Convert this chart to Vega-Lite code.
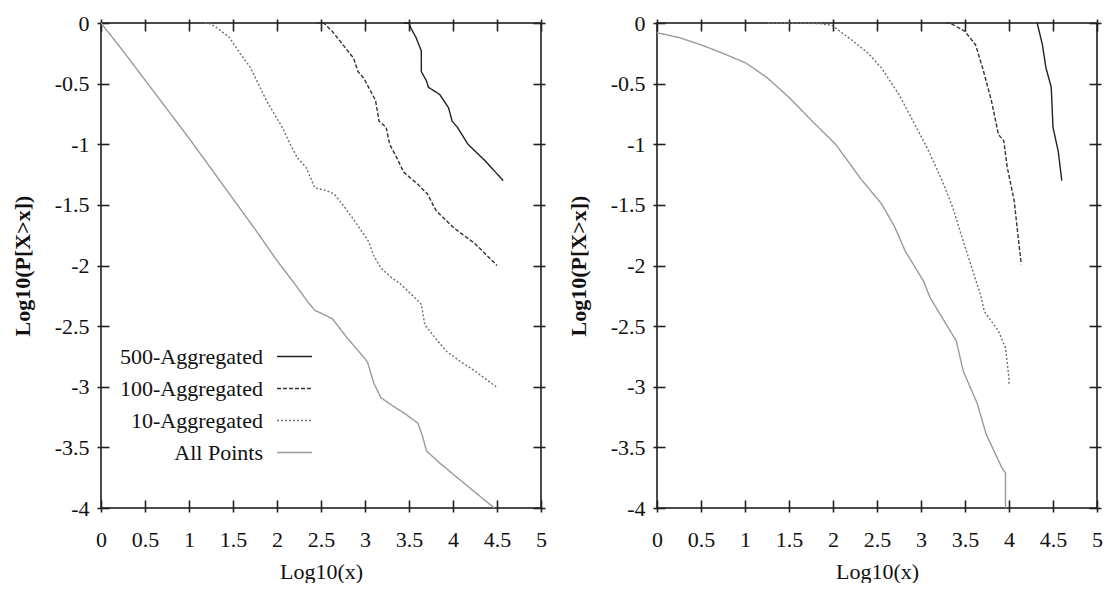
{
  "$schema": "https://vega.github.io/schema/vega-lite/v6.json",
  "background": "white",
  "padding": {"top": 11, "left": 10, "right": 5, "bottom": 0},
  "spacing": 18,
  "config": {
    "font": "Liberation Serif",
    "view": {"stroke": "#111", "strokeWidth": 1.5},
    "axis": {
      "labelFont": "Liberation Serif", "labelFontSize": 22, "labelColor": "#111",
      "titleFont": "Liberation Serif", "titleFontSize": 22, "titleColor": "#111", "titleFontWeight": "normal",
      "grid": false, "domain": false, "tickColor": "#222222", "tickSize": 12, "tickWidth": 1.6, "offset": -8,
      "labelFlush": false, "labelOverlap": false
    },
    "legend": {
      "orient": "none", "legendX": 179, "legendY": 315, "padding": 0,
      "labelFont": "Liberation Serif", "labelFontSize": 22, "labelColor": "#111",
      "labelAlign": "right", "labelOffset": -50, "labelLimit": 0,
      "symbolType": "stroke", "symbolSize": 1225, "symbolStrokeWidth": 1.4
    }
  },
  "datasets": {
    "left": [
      {"series": "All Points", "i": 0, "x": 0, "y": 0},
      {"series": "All Points", "i": 1, "x": 0.25, "y": -0.23},
      {"series": "All Points", "i": 2, "x": 0.5, "y": -0.47},
      {"series": "All Points", "i": 3, "x": 0.75, "y": -0.71},
      {"series": "All Points", "i": 4, "x": 1, "y": -0.95},
      {"series": "All Points", "i": 5, "x": 1.25, "y": -1.2},
      {"series": "All Points", "i": 6, "x": 1.5, "y": -1.45},
      {"series": "All Points", "i": 7, "x": 1.75, "y": -1.7},
      {"series": "All Points", "i": 8, "x": 2, "y": -1.96},
      {"series": "All Points", "i": 9, "x": 2.2, "y": -2.15},
      {"series": "All Points", "i": 10, "x": 2.35, "y": -2.3},
      {"series": "All Points", "i": 11, "x": 2.43, "y": -2.37},
      {"series": "All Points", "i": 12, "x": 2.55, "y": -2.41},
      {"series": "All Points", "i": 13, "x": 2.63, "y": -2.44},
      {"series": "All Points", "i": 14, "x": 2.8, "y": -2.6},
      {"series": "All Points", "i": 15, "x": 2.99, "y": -2.76},
      {"series": "All Points", "i": 16, "x": 3.03, "y": -2.8},
      {"series": "All Points", "i": 17, "x": 3.1, "y": -2.97},
      {"series": "All Points", "i": 18, "x": 3.18, "y": -3.09},
      {"series": "All Points", "i": 19, "x": 3.32, "y": -3.16},
      {"series": "All Points", "i": 20, "x": 3.45, "y": -3.22},
      {"series": "All Points", "i": 21, "x": 3.6, "y": -3.3},
      {"series": "All Points", "i": 22, "x": 3.65, "y": -3.4},
      {"series": "All Points", "i": 23, "x": 3.7, "y": -3.53},
      {"series": "All Points", "i": 24, "x": 3.85, "y": -3.63},
      {"series": "All Points", "i": 25, "x": 4.0, "y": -3.72},
      {"series": "All Points", "i": 26, "x": 4.2, "y": -3.84},
      {"series": "All Points", "i": 27, "x": 4.47, "y": -4.0},
      {"series": "10-Aggregated", "i": 0, "x": 1.18, "y": 0},
      {"series": "10-Aggregated", "i": 1, "x": 1.22, "y": 0},
      {"series": "10-Aggregated", "i": 2, "x": 1.3, "y": -0.03},
      {"series": "10-Aggregated", "i": 3, "x": 1.46, "y": -0.12},
      {"series": "10-Aggregated", "i": 4, "x": 1.58, "y": -0.25},
      {"series": "10-Aggregated", "i": 5, "x": 1.7, "y": -0.37},
      {"series": "10-Aggregated", "i": 6, "x": 1.88, "y": -0.64},
      {"series": "10-Aggregated", "i": 7, "x": 2.06, "y": -0.86},
      {"series": "10-Aggregated", "i": 8, "x": 2.15, "y": -1.0},
      {"series": "10-Aggregated", "i": 9, "x": 2.23, "y": -1.11},
      {"series": "10-Aggregated", "i": 10, "x": 2.33, "y": -1.19},
      {"series": "10-Aggregated", "i": 11, "x": 2.43, "y": -1.36},
      {"series": "10-Aggregated", "i": 12, "x": 2.55, "y": -1.38},
      {"series": "10-Aggregated", "i": 13, "x": 2.65, "y": -1.41},
      {"series": "10-Aggregated", "i": 14, "x": 2.78, "y": -1.53},
      {"series": "10-Aggregated", "i": 15, "x": 2.88, "y": -1.63},
      {"series": "10-Aggregated", "i": 16, "x": 3.04, "y": -1.8},
      {"series": "10-Aggregated", "i": 17, "x": 3.1, "y": -1.92},
      {"series": "10-Aggregated", "i": 18, "x": 3.18, "y": -2.02},
      {"series": "10-Aggregated", "i": 19, "x": 3.3, "y": -2.1},
      {"series": "10-Aggregated", "i": 20, "x": 3.4, "y": -2.15},
      {"series": "10-Aggregated", "i": 21, "x": 3.6, "y": -2.29},
      {"series": "10-Aggregated", "i": 22, "x": 3.64, "y": -2.32},
      {"series": "10-Aggregated", "i": 23, "x": 3.68, "y": -2.49},
      {"series": "10-Aggregated", "i": 24, "x": 3.8, "y": -2.6},
      {"series": "10-Aggregated", "i": 25, "x": 3.93, "y": -2.71},
      {"series": "10-Aggregated", "i": 26, "x": 4.1, "y": -2.8},
      {"series": "10-Aggregated", "i": 27, "x": 4.25, "y": -2.87},
      {"series": "10-Aggregated", "i": 28, "x": 4.49, "y": -3.0},
      {"series": "100-Aggregated", "i": 0, "x": 2.45, "y": 0},
      {"series": "100-Aggregated", "i": 1, "x": 2.53, "y": 0},
      {"series": "100-Aggregated", "i": 2, "x": 2.63, "y": -0.07},
      {"series": "100-Aggregated", "i": 3, "x": 2.75, "y": -0.18},
      {"series": "100-Aggregated", "i": 4, "x": 2.87, "y": -0.29},
      {"series": "100-Aggregated", "i": 5, "x": 2.92, "y": -0.4},
      {"series": "100-Aggregated", "i": 6, "x": 2.99, "y": -0.46},
      {"series": "100-Aggregated", "i": 7, "x": 3.12, "y": -0.64},
      {"series": "100-Aggregated", "i": 8, "x": 3.16, "y": -0.81},
      {"series": "100-Aggregated", "i": 9, "x": 3.24, "y": -0.86},
      {"series": "100-Aggregated", "i": 10, "x": 3.28, "y": -1.0},
      {"series": "100-Aggregated", "i": 11, "x": 3.36, "y": -1.11},
      {"series": "100-Aggregated", "i": 12, "x": 3.44, "y": -1.23},
      {"series": "100-Aggregated", "i": 13, "x": 3.6, "y": -1.33},
      {"series": "100-Aggregated", "i": 14, "x": 3.71, "y": -1.41},
      {"series": "100-Aggregated", "i": 15, "x": 3.81, "y": -1.55},
      {"series": "100-Aggregated", "i": 16, "x": 4.01, "y": -1.69},
      {"series": "100-Aggregated", "i": 17, "x": 4.25, "y": -1.82},
      {"series": "100-Aggregated", "i": 18, "x": 4.5, "y": -2.0},
      {"series": "500-Aggregated", "i": 0, "x": 3.44, "y": 0},
      {"series": "500-Aggregated", "i": 1, "x": 3.5, "y": 0},
      {"series": "500-Aggregated", "i": 2, "x": 3.52, "y": -0.04},
      {"series": "500-Aggregated", "i": 3, "x": 3.58, "y": -0.12},
      {"series": "500-Aggregated", "i": 4, "x": 3.64, "y": -0.23},
      {"series": "500-Aggregated", "i": 5, "x": 3.64, "y": -0.4},
      {"series": "500-Aggregated", "i": 6, "x": 3.7, "y": -0.48},
      {"series": "500-Aggregated", "i": 7, "x": 3.72, "y": -0.53},
      {"series": "500-Aggregated", "i": 8, "x": 3.85, "y": -0.59},
      {"series": "500-Aggregated", "i": 9, "x": 3.95, "y": -0.7},
      {"series": "500-Aggregated", "i": 10, "x": 3.99, "y": -0.81},
      {"series": "500-Aggregated", "i": 11, "x": 4.05, "y": -0.86},
      {"series": "500-Aggregated", "i": 12, "x": 4.17, "y": -1.0},
      {"series": "500-Aggregated", "i": 13, "x": 4.37, "y": -1.14},
      {"series": "500-Aggregated", "i": 14, "x": 4.57, "y": -1.3}
    ],
    "right": [
      {"series": "All Points", "i": 0, "x": 0, "y": -0.08},
      {"series": "All Points", "i": 1, "x": 0.25, "y": -0.12},
      {"series": "All Points", "i": 2, "x": 0.5, "y": -0.18},
      {"series": "All Points", "i": 3, "x": 0.75, "y": -0.25},
      {"series": "All Points", "i": 4, "x": 1.01, "y": -0.33},
      {"series": "All Points", "i": 5, "x": 1.25, "y": -0.45},
      {"series": "All Points", "i": 6, "x": 1.51, "y": -0.62},
      {"series": "All Points", "i": 7, "x": 1.75, "y": -0.8},
      {"series": "All Points", "i": 8, "x": 2.03, "y": -1.0},
      {"series": "All Points", "i": 9, "x": 2.31, "y": -1.28},
      {"series": "All Points", "i": 10, "x": 2.55, "y": -1.49},
      {"series": "All Points", "i": 11, "x": 2.7, "y": -1.68},
      {"series": "All Points", "i": 12, "x": 2.82, "y": -1.88},
      {"series": "All Points", "i": 13, "x": 3.03, "y": -2.13},
      {"series": "All Points", "i": 14, "x": 3.1, "y": -2.26},
      {"series": "All Points", "i": 15, "x": 3.24, "y": -2.43},
      {"series": "All Points", "i": 16, "x": 3.4, "y": -2.62},
      {"series": "All Points", "i": 17, "x": 3.48, "y": -2.87},
      {"series": "All Points", "i": 18, "x": 3.64, "y": -3.14},
      {"series": "All Points", "i": 19, "x": 3.74, "y": -3.39},
      {"series": "All Points", "i": 20, "x": 3.92, "y": -3.67},
      {"series": "All Points", "i": 21, "x": 3.96, "y": -3.71},
      {"series": "All Points", "i": 22, "x": 3.96, "y": -4.0},
      {"series": "10-Aggregated", "i": 0, "x": 1.26, "y": 0},
      {"series": "10-Aggregated", "i": 1, "x": 1.6, "y": 0},
      {"series": "10-Aggregated", "i": 2, "x": 1.85, "y": -0.005},
      {"series": "10-Aggregated", "i": 3, "x": 1.99, "y": -0.02},
      {"series": "10-Aggregated", "i": 4, "x": 2.23, "y": -0.15},
      {"series": "10-Aggregated", "i": 5, "x": 2.4, "y": -0.25},
      {"series": "10-Aggregated", "i": 6, "x": 2.55, "y": -0.37},
      {"series": "10-Aggregated", "i": 7, "x": 2.75, "y": -0.59},
      {"series": "10-Aggregated", "i": 8, "x": 2.91, "y": -0.81},
      {"series": "10-Aggregated", "i": 9, "x": 3.07, "y": -1.03},
      {"series": "10-Aggregated", "i": 10, "x": 3.24, "y": -1.3},
      {"series": "10-Aggregated", "i": 11, "x": 3.36, "y": -1.52},
      {"series": "10-Aggregated", "i": 12, "x": 3.48, "y": -1.8},
      {"series": "10-Aggregated", "i": 13, "x": 3.6, "y": -2.07},
      {"series": "10-Aggregated", "i": 14, "x": 3.68, "y": -2.25},
      {"series": "10-Aggregated", "i": 15, "x": 3.72, "y": -2.38},
      {"series": "10-Aggregated", "i": 16, "x": 3.88, "y": -2.54},
      {"series": "10-Aggregated", "i": 17, "x": 3.96, "y": -2.68},
      {"series": "10-Aggregated", "i": 18, "x": 4.0, "y": -2.93},
      {"series": "10-Aggregated", "i": 19, "x": 4.0, "y": -2.98},
      {"series": "100-Aggregated", "i": 0, "x": 3.28, "y": 0},
      {"series": "100-Aggregated", "i": 1, "x": 3.33, "y": 0},
      {"series": "100-Aggregated", "i": 2, "x": 3.5, "y": -0.07},
      {"series": "100-Aggregated", "i": 3, "x": 3.62, "y": -0.18},
      {"series": "100-Aggregated", "i": 4, "x": 3.7, "y": -0.37},
      {"series": "100-Aggregated", "i": 5, "x": 3.8, "y": -0.64},
      {"series": "100-Aggregated", "i": 6, "x": 3.88, "y": -0.92},
      {"series": "100-Aggregated", "i": 7, "x": 3.94, "y": -0.97},
      {"series": "100-Aggregated", "i": 8, "x": 3.98, "y": -1.19},
      {"series": "100-Aggregated", "i": 9, "x": 4.06, "y": -1.47},
      {"series": "100-Aggregated", "i": 10, "x": 4.1, "y": -1.74},
      {"series": "100-Aggregated", "i": 11, "x": 4.14, "y": -1.99},
      {"series": "500-Aggregated", "i": 0, "x": 4.32, "y": 0},
      {"series": "500-Aggregated", "i": 1, "x": 4.38, "y": -0.18},
      {"series": "500-Aggregated", "i": 2, "x": 4.42, "y": -0.37},
      {"series": "500-Aggregated", "i": 3, "x": 4.48, "y": -0.53},
      {"series": "500-Aggregated", "i": 4, "x": 4.5, "y": -0.86},
      {"series": "500-Aggregated", "i": 5, "x": 4.56, "y": -1.06},
      {"series": "500-Aggregated", "i": 6, "x": 4.6, "y": -1.3}
    ]
  },
  "hconcat": [
    {
      "width": 440, "height": 485,
      "data": {"name": "left"},
      "resolve": {"axis": {"x": "independent", "y": "independent"}},
      "layer": [
        {
          "mark": {"type": "line", "strokeWidth": 1.4},
          "encoding": {
            "x": {"field": "x", "type": "quantitative", "scale": {"domain": [0, 5], "nice": false, "zero": false},
                  "axis": {"orient": "bottom", "values": [0, 0.5, 1, 1.5, 2, 2.5, 3, 3.5, 4, 4.5, 5], "labelExpr": "'' + datum.value", "title": "Log10(x)", "labelPadding": 17, "titlePadding": 11}},
            "y": {"field": "y", "type": "quantitative", "scale": {"domain": [-4, 0], "nice": false, "zero": false},
                  "axis": {"orient": "left", "values": [-4, -3.5, -3, -2.5, -2, -1.5, -1, -0.5, 0], "labelExpr": "'' + datum.value", "title": "Log10(P[X>x])", "titleFontWeight": "bold", "labelPadding": 8, "titlePadding": 20}},
            "order": {"field": "i", "type": "quantitative"},
            "color": {"field": "series", "type": "nominal",
                      "scale": {"domain": ["500-Aggregated", "100-Aggregated", "10-Aggregated", "All Points"], "range": ["#222222", "#333333", "#6e6e6e", "#9a9a9a"]},
                      "legend": {"title": null}},
            "strokeDash": {"field": "series", "type": "nominal",
                      "scale": {"domain": ["500-Aggregated", "100-Aggregated", "10-Aggregated", "All Points"], "range": [[1, 0], [4, 2], [2, 2], [1, 0]]},
                      "legend": {"title": null}}
          }
        },
        {
          "mark": {"type": "line", "opacity": 0},
          "encoding": {
            "x": {"field": "x", "type": "quantitative", "axis": {"orient": "top", "values": [0, 0.5, 1, 1.5, 2, 2.5, 3, 3.5, 4, 4.5, 5], "labels": false, "title": null}},
            "y": {"field": "y", "type": "quantitative", "axis": {"orient": "right", "values": [-4, -3.5, -3, -2.5, -2, -1.5, -1, -0.5, 0], "labels": false, "title": null}},
            "detail": {"field": "series", "type": "nominal"},
            "order": {"field": "i", "type": "quantitative"}
          }
        }
      ]
    },
    {
      "width": 440, "height": 485,
      "data": {"name": "right"},
      "resolve": {"axis": {"x": "independent", "y": "independent"}},
      "layer": [
        {
          "mark": {"type": "line", "strokeWidth": 1.4},
          "encoding": {
            "x": {"field": "x", "type": "quantitative", "scale": {"domain": [0, 5], "nice": false, "zero": false},
                  "axis": {"orient": "bottom", "values": [0, 0.5, 1, 1.5, 2, 2.5, 3, 3.5, 4, 4.5, 5], "labelExpr": "'' + datum.value", "title": "Log10(x)", "labelPadding": 17, "titlePadding": 11}},
            "y": {"field": "y", "type": "quantitative", "scale": {"domain": [-4, 0], "nice": false, "zero": false},
                  "axis": {"orient": "left", "values": [-4, -3.5, -3, -2.5, -2, -1.5, -1, -0.5, 0], "labelExpr": "'' + datum.value", "title": "Log10(P[X>x])", "titleFontWeight": "bold", "labelPadding": 8, "titlePadding": 20}},
            "order": {"field": "i", "type": "quantitative"},
            "color": {"field": "series", "type": "nominal",
                      "scale": {"domain": ["500-Aggregated", "100-Aggregated", "10-Aggregated", "All Points"], "range": ["#222222", "#333333", "#6e6e6e", "#9a9a9a"]},
                      "legend": {"title": null, "legendX": 175}},
            "strokeDash": {"field": "series", "type": "nominal",
                      "scale": {"domain": ["500-Aggregated", "100-Aggregated", "10-Aggregated", "All Points"], "range": [[1, 0], [4, 2], [2, 2], [1, 0]]},
                      "legend": {"title": null, "legendX": 175}}
          }
        },
        {
          "mark": {"type": "line", "opacity": 0},
          "encoding": {
            "x": {"field": "x", "type": "quantitative", "axis": {"orient": "top", "values": [0, 0.5, 1, 1.5, 2, 2.5, 3, 3.5, 4, 4.5, 5], "labels": false, "title": null}},
            "y": {"field": "y", "type": "quantitative", "axis": {"orient": "right", "values": [-4, -3.5, -3, -2.5, -2, -1.5, -1, -0.5, 0], "labels": false, "title": null}},
            "detail": {"field": "series", "type": "nominal"},
            "order": {"field": "i", "type": "quantitative"}
          }
        }
      ]
    }
  ]
}
